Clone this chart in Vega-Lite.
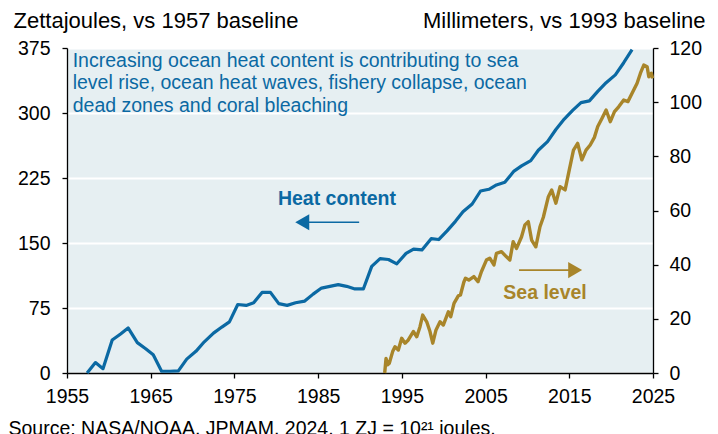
{
  "$schema": "https://vega.github.io/schema/vega-lite/v6.json",
  "width": 586,
  "height": 325,
  "autosize": "none",
  "padding": {"left": 67, "top": 48, "right": 65, "bottom": 61},
  "background": "white",
  "config": {
    "font": "Liberation Sans",
    "view": {"fill": "#E6EFF2", "stroke": null},
    "axis": {"labelColor": "black", "titleColor": "black", "domainColor": "black", "tickColor": "black", "labelFont": "Liberation Sans", "titleFont": "Liberation Sans"}
  },
  "datasets": {
    "heat": [
      {"year": 1957.4, "zj": 0}, {"year": 1958.4, "zj": 12}, {"year": 1959.3, "zj": 5}, {"year": 1960.4, "zj": 38},
      {"year": 1961.4, "zj": 45}, {"year": 1962.3, "zj": 52}, {"year": 1963.4, "zj": 35}, {"year": 1964.4, "zj": 28},
      {"year": 1965.3, "zj": 21}, {"year": 1966.3, "zj": 2}, {"year": 1967.3, "zj": 2}, {"year": 1968.3, "zj": 2.5},
      {"year": 1969.3, "zj": 16}, {"year": 1970.4, "zj": 25}, {"year": 1971.4, "zj": 36}, {"year": 1972.5, "zj": 46},
      {"year": 1973.5, "zj": 53}, {"year": 1974.4, "zj": 59}, {"year": 1975.4, "zj": 79}, {"year": 1976.4, "zj": 78},
      {"year": 1977.3, "zj": 81}, {"year": 1978.3, "zj": 93}, {"year": 1979.3, "zj": 93}, {"year": 1980.3, "zj": 80},
      {"year": 1981.3, "zj": 78}, {"year": 1982.3, "zj": 81}, {"year": 1983.4, "zj": 83}, {"year": 1984.4, "zj": 91},
      {"year": 1985.4, "zj": 98}, {"year": 1986.4, "zj": 100}, {"year": 1987.4, "zj": 102}, {"year": 1988.4, "zj": 100},
      {"year": 1989.4, "zj": 97}, {"year": 1990.4, "zj": 97}, {"year": 1991.4, "zj": 123}, {"year": 1992.4, "zj": 132},
      {"year": 1993.4, "zj": 131}, {"year": 1994.4, "zj": 126}, {"year": 1995.5, "zj": 138}, {"year": 1996.4, "zj": 143},
      {"year": 1997.4, "zj": 142}, {"year": 1998.5, "zj": 155}, {"year": 1999.4, "zj": 154}, {"year": 2000.4, "zj": 164},
      {"year": 2001.4, "zj": 175}, {"year": 2002.3, "zj": 186}, {"year": 2003.4, "zj": 195}, {"year": 2004.4, "zj": 210},
      {"year": 2005.4, "zj": 212}, {"year": 2006.3, "zj": 217}, {"year": 2007.3, "zj": 220}, {"year": 2008.4, "zj": 233},
      {"year": 2009.3, "zj": 239}, {"year": 2010.4, "zj": 245}, {"year": 2011.3, "zj": 257}, {"year": 2012.4, "zj": 267},
      {"year": 2013.4, "zj": 281}, {"year": 2014.4, "zj": 293}, {"year": 2015.4, "zj": 303}, {"year": 2016.4, "zj": 312},
      {"year": 2017.4, "zj": 314}, {"year": 2018.4, "zj": 325}, {"year": 2019.4, "zj": 335}, {"year": 2020.5, "zj": 344},
      {"year": 2021.5, "zj": 358}, {"year": 2022.5, "zj": 373}
    ],
    "sea": [
      {"year": 1992.95, "mm": 0}, {"year": 1993.11, "mm": 5.4}, {"year": 1993.3, "mm": 3.0}, {"year": 1993.5, "mm": 3.6},
      {"year": 1993.9, "mm": 7.9}, {"year": 1994.18, "mm": 9.7}, {"year": 1994.58, "mm": 8.5}, {"year": 1994.98, "mm": 12.8},
      {"year": 1995.38, "mm": 11.0}, {"year": 1995.77, "mm": 12.2}, {"year": 1996.37, "mm": 15.3}, {"year": 1996.78, "mm": 13.4},
      {"year": 1997.17, "mm": 17.1}, {"year": 1997.49, "mm": 21.4}, {"year": 1997.97, "mm": 18.9}, {"year": 1998.36, "mm": 15.3},
      {"year": 1998.69, "mm": 11.0}, {"year": 1999.08, "mm": 15.9}, {"year": 1999.56, "mm": 18.9}, {"year": 1999.95, "mm": 17.7},
      {"year": 2000.55, "mm": 22.6}, {"year": 2000.84, "mm": 20.8}, {"year": 2001.23, "mm": 25.7}, {"year": 2001.74, "mm": 28.5},
      {"year": 2002.0, "mm": 28.8}, {"year": 2002.4, "mm": 33.5}, {"year": 2002.6, "mm": 35.0}, {"year": 2003.0, "mm": 34.3},
      {"year": 2003.6, "mm": 35.6}, {"year": 2004.1, "mm": 33.7}, {"year": 2004.5, "mm": 37.4}, {"year": 2005.1, "mm": 41.7},
      {"year": 2005.5, "mm": 42.4}, {"year": 2006.0, "mm": 39.9}, {"year": 2006.3, "mm": 44.2}, {"year": 2006.9, "mm": 44.8},
      {"year": 2007.5, "mm": 42.9}, {"year": 2007.9, "mm": 41.7}, {"year": 2008.3, "mm": 48.5}, {"year": 2008.7, "mm": 46.0},
      {"year": 2009.3, "mm": 50.3}, {"year": 2009.7, "mm": 54.7}, {"year": 2010.1, "mm": 55.9}, {"year": 2010.5, "mm": 49.1},
      {"year": 2011.0, "mm": 46.6}, {"year": 2011.5, "mm": 54.0}, {"year": 2011.9, "mm": 57.5}, {"year": 2012.5, "mm": 65.1},
      {"year": 2012.9, "mm": 67.6}, {"year": 2013.4, "mm": 62.7}, {"year": 2013.9, "mm": 68.8}, {"year": 2014.5, "mm": 67.6},
      {"year": 2015.0, "mm": 75.0}, {"year": 2015.5, "mm": 82.3}, {"year": 2016.0, "mm": 84.8}, {"year": 2016.5, "mm": 78.7},
      {"year": 2017.0, "mm": 82.3}, {"year": 2017.5, "mm": 84.2}, {"year": 2018.0, "mm": 87.0}, {"year": 2018.4, "mm": 91.0},
      {"year": 2018.9, "mm": 94.0}, {"year": 2019.4, "mm": 97.1}, {"year": 2019.9, "mm": 92.8}, {"year": 2020.4, "mm": 96.5},
      {"year": 2020.9, "mm": 98.3}, {"year": 2021.5, "mm": 100.8}, {"year": 2022.0, "mm": 100.2}, {"year": 2022.5, "mm": 103.3},
      {"year": 2023.1, "mm": 107.0}, {"year": 2023.5, "mm": 110.7}, {"year": 2023.9, "mm": 113.7}, {"year": 2024.3, "mm": 113.1},
      {"year": 2024.5, "mm": 109.4}, {"year": 2024.8, "mm": 110.7}, {"year": 2024.95, "mm": 108.8}
    ],
    "heatArrow": [{"year": 1983.8, "year2": 1989.9, "zj": 174}],
    "heatHead": [{"year": 1983.1, "zj": 174}],
    "heatNote": [{"year": 1955.68, "zj": 353.4, "txt": ["Increasing ocean heat content is contributing to sea", "level rise, ocean heat waves, fishery collapse, ocean", "dead zones and coral bleaching"]}],
    "heatLabel": [{"year": 1987.25, "zj": 193.8, "txt": "Heat content"}],
    "seaArrow": [{"year": 2009.0, "year2": 2015.0, "mm": 38.0}],
    "seaHead": [{"year": 2015.7, "mm": 38.0}],
    "seaLabel": [{"year": 2012.1, "mm": 27.3, "txt": "Sea level"}]
  },
  "layer": [
    {
      "layer": [
        {
          "data": {"name": "heat"},
          "mark": {"type": "line", "color": "#0B69A3", "strokeWidth": 3.2, "strokeJoin": "round"},
          "encoding": {
            "x": {"field": "year", "type": "quantitative", "scale": {"domain": [1955, 2025], "nice": false, "zero": false},
              "axis": {"orient": "bottom", "values": [1955, 1965, 1975, 1985, 1995, 2005, 2015, 2025], "format": "d", "grid": false,
                "labelFontSize": 19.5, "labelFlush": false, "labelOverlap": false, "labelPadding": 9, "tickSize": 5, "tickWidth": 1.3, "domainWidth": 1.5,
                "title": "Source: NASA/NOAA, JPMAM, 2024. 1 ZJ = 10²¹ joules.", "titleFontSize": 19.5, "titleFontWeight": "normal",
                "titleAlign": "left", "titleAnchor": null, "titleBaseline": "alphabetic", "titleX": -59, "titleY": 61}},
            "y": {"field": "zj", "type": "quantitative", "scale": {"domain": [0, 375], "nice": false},
              "axis": {"orient": "left", "values": [0, 75, 150, 225, 300, 375], "grid": true, "gridColor": "white", "gridWidth": 2.2,
                "labelFontSize": 19.5, "labelPadding": 12, "tickSize": 5, "tickWidth": 1.3, "domainWidth": 1.3,
                "title": "Zettajoules, vs 1957 baseline", "titleFontSize": 22, "titleFontWeight": "normal", "titleAngle": 0,
                "titleAlign": "left", "titleAnchor": null, "titleBaseline": "alphabetic", "titleX": -54, "titleY": -21}}
          }
        },
        {
          "data": {"name": "heatArrow"},
          "mark": {"type": "rule", "color": "#0B69A3", "strokeWidth": 1.6},
          "encoding": {"x": {"field": "year", "type": "quantitative"}, "x2": {"field": "year2"}, "y": {"field": "zj", "type": "quantitative"}}
        },
        {
          "data": {"name": "heatHead"},
          "mark": {"type": "point", "shape": "triangle-left", "filled": true, "color": "#0B69A3", "opacity": 1, "size": 260},
          "encoding": {"x": {"field": "year", "type": "quantitative"}, "y": {"field": "zj", "type": "quantitative"}}
        },
        {
          "data": {"name": "heatNote"},
          "mark": {"type": "text", "color": "#0B69A3", "fontSize": 19.5, "align": "left", "baseline": "alphabetic", "lineHeight": 22.5},
          "encoding": {"x": {"field": "year", "type": "quantitative"}, "y": {"field": "zj", "type": "quantitative"}, "text": {"field": "txt"}}
        },
        {
          "data": {"name": "heatLabel"},
          "mark": {"type": "text", "color": "#0B69A3", "fontSize": 19.5, "fontWeight": "bold", "align": "center", "baseline": "alphabetic"},
          "encoding": {"x": {"field": "year", "type": "quantitative"}, "y": {"field": "zj", "type": "quantitative"}, "text": {"field": "txt"}}
        }
      ]
    },
    {
      "layer": [
        {
          "data": {"name": "sea"},
          "mark": {"type": "line", "color": "#A8852A", "strokeWidth": 3.4, "strokeJoin": "round"},
          "encoding": {
            "x": {"field": "year", "type": "quantitative"},
            "y": {"field": "mm", "type": "quantitative", "scale": {"domain": [0, 120], "nice": false},
              "axis": {"orient": "right", "values": [0, 20, 40, 60, 80, 100, 120], "grid": false,
                "labelFontSize": 19.5, "labelPadding": 11, "tickSize": 5, "tickWidth": 1.3, "domainWidth": 1.3,
                "title": "Millimeters, vs 1993 baseline", "titleFontSize": 22, "titleFontWeight": "normal", "titleAngle": 0,
                "titleAlign": "right", "titleAnchor": null, "titleBaseline": "alphabetic", "titleX": 52, "titleY": -21}}
          }
        },
        {
          "data": {"name": "seaArrow"},
          "mark": {"type": "rule", "color": "#A8852A", "strokeWidth": 1.6},
          "encoding": {"x": {"field": "year", "type": "quantitative"}, "x2": {"field": "year2"}, "y": {"field": "mm", "type": "quantitative"}}
        },
        {
          "data": {"name": "seaHead"},
          "mark": {"type": "point", "shape": "triangle-right", "filled": true, "color": "#A8852A", "opacity": 1, "size": 260},
          "encoding": {"x": {"field": "year", "type": "quantitative"}, "y": {"field": "mm", "type": "quantitative"}}
        },
        {
          "data": {"name": "seaLabel"},
          "mark": {"type": "text", "color": "#A8852A", "fontSize": 19.5, "fontWeight": "bold", "align": "center", "baseline": "alphabetic"},
          "encoding": {"x": {"field": "year", "type": "quantitative"}, "y": {"field": "mm", "type": "quantitative"}, "text": {"field": "txt"}}
        }
      ]
    }
  ],
  "resolve": {"scale": {"y": "independent"}}
}
